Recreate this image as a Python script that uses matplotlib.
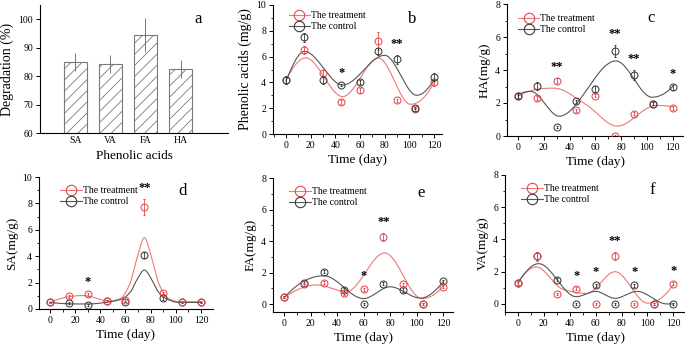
import numpy as np
import matplotlib
matplotlib.use("Agg")
import matplotlib.pyplot as plt
from matplotlib.lines import Line2D
from matplotlib.ticker import MultipleLocator

plt.rcParams['font.family'] = ['Liberation Serif', 'DejaVu Serif']
plt.rcParams['hatch.color'] = '#8a8a8a'
plt.rcParams['hatch.linewidth'] = 0.6

RED = '#e24a4e'
RED_LINE = '#f07878'
BLK = '#3a3a3a'
BLK_LINE = '#555555'

# ---------------- data ----------------
acids = ['SA', 'VA', 'FA', 'HA']
degradation = [85.0, 84.2, 94.5, 82.5]
degradation_err = [3.3, 3.2, 6.0, 3.2]

days = [0, 15, 30, 45, 60, 75, 90, 105, 120]

# panel b: phenolic acids
b_treat = [4.2, 6.5, 4.7, 2.5, 3.4, 7.2, 2.6, 1.9, 4.0]
b_treat_err = [0.25, 0.3, 0.25, 0.15, 0.2, 0.7, 0.15, 0.1, 0.25]
b_ctrl = [4.2, 7.5, 4.2, 3.8, 4.0, 6.4, 5.8, 2.0, 4.4]
b_ctrl_err = [0.3, 0.35, 0.3, 0.1, 0.15, 0.25, 0.35, 0.1, 0.3]
b_treat_fit_x = [0, 16, 46, 75, 101, 120]
b_treat_fit_y = [4.2, 5.9, 2.9, 5.9, 2.3, 4.0]
b_ctrl_fit_x = [0, 15, 46, 80, 106, 120]
b_ctrl_fit_y = [4.1, 6.4, 3.8, 6.1, 3.0, 4.2]
b_stars = [(45, '*'), (90, '**')]

# panel c: HA
c_treat = [2.4, 2.3, 3.35, 1.55, 2.45, 0.0, 1.35, 1.95, 1.7]
c_treat_err = [0.1, 0.1, 0.15, 0.1, 0.1, 0.05, 0.1, 0.1, 0.1]
c_ctrl = [2.45, 3.05, 0.55, 2.1, 2.85, 5.15, 3.7, 1.95, 2.95]
c_ctrl_err = [0.15, 0.25, 0.05, 0.1, 0.2, 0.35, 0.3, 0.1, 0.15]
c_treat_fit_x = [0, 28, 52, 77, 107, 120]
c_treat_fit_y = [2.4, 2.9, 1.95, 0.6, 1.85, 1.75]
c_ctrl_fit_x = [0, 10, 32, 76, 104, 120]
c_ctrl_fit_y = [2.5, 2.7, 1.2, 4.55, 2.35, 3.0]
c_stars = [(30, '**'), (75, '**'), (90, '**'), (120, '*')]

# panel d: SA
d_treat = [0.5, 0.95, 1.1, 0.6, 0.65, 7.7, 1.2, 0.55, 0.55]
d_treat_err = [0.05, 0.1, 0.1, 0.05, 0.1, 0.6, 0.1, 0.05, 0.05]
d_ctrl = [0.5, 0.45, 0.3, 0.6, 0.55, 4.1, 0.8, 0.5, 0.5]
d_ctrl_err = [0.05, 0.05, 0.05, 0.05, 0.05, 0.25, 0.1, 0.05, 0.05]
d_treat_fit_x = [0, 27, 47, 56, 63, 69, 75, 81, 87, 94, 103, 120]
d_treat_fit_y = [0.5, 1.02, 0.6, 0.8, 1.8, 3.8, 5.4, 3.8, 1.8, 0.8, 0.55, 0.55]
d_ctrl_fit_x = [0, 30, 48, 57, 64, 69, 75, 81, 86, 93, 102, 120]
d_ctrl_fit_y = [0.5, 0.38, 0.55, 0.75, 1.3, 2.2, 2.95, 2.2, 1.3, 0.75, 0.5, 0.5]
d_stars = [(30, '*'), (75, '**')]

# panel e: FA
e_treat = [0.45, 1.25, 1.35, 0.7, 0.95, 4.25, 1.25, 0.0, 1.1]
e_treat_err = [0.05, 0.1, 0.1, 0.1, 0.1, 0.25, 0.1, 0.05, 0.1]
e_ctrl = [0.45, 1.35, 2.05, 0.9, 0.0, 1.3, 0.9, 0.0, 1.45]
e_ctrl_err = [0.05, 0.1, 0.1, 0.1, 0.05, 0.1, 0.1, 0.05, 0.1]
e_treat_fit_x = [0, 25, 47, 76, 104, 120]
e_treat_fit_y = [0.4, 1.22, 0.78, 3.25, 0.35, 1.15]
e_ctrl_fit_x = [0, 30, 60, 80, 103, 120]
e_ctrl_fit_y = [0.4, 1.8, 0.35, 1.1, 0.38, 1.4]
e_stars = [(60, '*'), (75, '**')]

# panel f: VA
f_treat = [1.3, 2.95, 0.6, 0.95, 0.0, 2.95, 0.0, 0.0, 1.25]
f_treat_err = [0.1, 0.3, 0.05, 0.1, 0.05, 0.25, 0.05, 0.05, 0.1]
f_ctrl = [1.3, 3.0, 1.5, 0.0, 1.15, 0.0, 1.15, 0.0, 0.0]
f_ctrl_err = [0.1, 0.25, 0.1, 0.05, 0.1, 0.05, 0.1, 0.05, 0.05]
f_treat_fit_x = [0, 14, 35, 53, 75, 100, 120]
f_treat_fit_y = [1.3, 2.3, 0.9, 0.65, 2.0, 0.05, 1.2]
f_ctrl_fit_x = [0, 16, 45, 60, 75, 92, 115, 120]
f_ctrl_fit_y = [1.3, 2.5, 0.45, 0.78, 0.35, 0.78, 0.0, 0.0]
f_stars = [(45, '*'), (60, '*'), (75, '**'), (90, '*'), (120, '*')]


def pchip(xk, yk, xs):
    xk = np.asarray(xk, float)
    yk = np.asarray(yk, float)
    h = np.diff(xk)
    d = np.diff(yk) / h
    n = len(xk)
    m = np.zeros(n)
    for k in range(1, n - 1):
        if d[k - 1] * d[k] > 0:
            w1 = 2 * h[k] + h[k - 1]
            w2 = h[k] + 2 * h[k - 1]
            m[k] = (w1 + w2) / (w1 / d[k - 1] + w2 / d[k])

    def end(h0, h1, d0, d1):
        v = ((2 * h0 + h1) * d0 - h0 * d1) / (h0 + h1)
        if np.sign(v) != np.sign(d0):
            v = 0.0
        elif np.sign(d0) != np.sign(d1) and abs(v) > abs(3 * d0):
            v = 3 * d0
        return v

    m[0] = end(h[0], h[1], d[0], d[1])
    m[-1] = end(h[-1], h[-2], d[-1], d[-2])
    xs = np.asarray(xs, float)
    idx = np.clip(np.searchsorted(xk, xs) - 1, 0, n - 2)
    t = (xs - xk[idx]) / h[idx]
    h00 = 2 * t**3 - 3 * t**2 + 1
    h10 = t**3 - 2 * t**2 + t
    h01 = -2 * t**3 + 3 * t**2
    h11 = t**3 - t**2
    return (h00 * yk[idx] + h10 * h[idx] * m[idx] +
            h01 * yk[idx + 1] + h11 * h[idx] * m[idx + 1])


fig = plt.figure(figsize=(6.85, 3.46), dpi=100)
W, H = 685.0, 346.0


def add_ax(left, right, top, bottom):
    return fig.add_axes([left / W, 1 - bottom / H, (right - left) / W, (bottom - top) / H])


def style(ax):
    for s in ['top', 'right']:
        ax.spines[s].set_visible(False)
    for s in ['left', 'bottom']:
        ax.spines[s].set_linewidth(0.8)
    ax.tick_params(direction='out', length=3, width=0.7, labelsize=7, pad=2)
    ax.tick_params(which='minor', direction='out', length=1.8, width=0.6)


# ---------------- panel a ----------------
axa = add_ax(40, 228, 5, 133)
style(axa)
xa = np.arange(1, len(acids) + 1)
axa.bar(xa, degradation, width=0.65, bottom=0, color='white', edgecolor='#7a7a7a',
        hatch='///', linewidth=0.8)
axa.errorbar(xa, degradation, yerr=degradation_err, fmt='none', ecolor='#777777',
             elinewidth=0.7, capsize=0)
axa.set_ylim(60, 105)
axa.set_xlim(0, 5.35)
axa.set_xticks(xa)
axa.set_xticklabels(acids)
axa.set_yticks([60, 70, 80, 90, 100])
axa.tick_params(axis='x', length=0)
axa.set_xlabel('Phenolic acids', fontsize=9.5, labelpad=4)
axa.set_ylabel('Degradation (%)', fontsize=10, labelpad=3)
axa.text(0.82, 0.86, 'a', transform=axa.transAxes, fontsize=12)


def line_panel(rect, treat, terr, ctrl, cerr, tfx, tfy, cfx, cfy, stars, ylim, ymajor,
               ylabel, letter, xlim, leg_xy, ctrl_top=False, ylabel_size=9.5):
    ax = add_ax(*rect)
    style(ax)
    xs = np.linspace(0, 120, 400)
    ax.plot(xs, pchip(tfx, tfy, xs), color=RED_LINE, lw=0.8, zorder=2)
    ax.plot(xs, pchip(cfx, cfy, xs), color=BLK_LINE, lw=0.8, zorder=2)
    zt, zc = (3, 4) if ctrl_top else (4, 3)
    ax.errorbar(days, treat, yerr=terr, fmt='o', ms=5, mfc='none', mec=RED, mew=0.75,
                ecolor=RED, elinewidth=0.6, capsize=1, capthick=0.6, zorder=zt)
    ax.errorbar(days, ctrl, yerr=cerr, fmt='o', ms=5, mfc='none', mec=BLK, mew=0.75,
                ecolor=BLK, elinewidth=0.6, capsize=1, capthick=0.6, zorder=zc)
    for x, s in stars:
        i = days.index(x)
        top = max(treat[i] + terr[i], ctrl[i] + cerr[i])
        ax.text(x, top + 0.04 * (ylim[1] - ylim[0]), s, ha='center', va='bottom',
                fontsize=9, fontweight='bold', color='black')
    ax.set_xlim(*xlim)
    ax.set_ylim(*ylim)
    ax.xaxis.set_major_locator(MultipleLocator(20))
    ax.xaxis.set_minor_locator(MultipleLocator(10))
    ax.yaxis.set_major_locator(MultipleLocator(ymajor))
    ax.yaxis.set_minor_locator(MultipleLocator(ymajor / 2))
    ax.set_xlabel('Time (day)', fontsize=9.5, labelpad=3)
    ax.set_ylabel(ylabel, fontsize=ylabel_size, labelpad=3)
    ax.text(0.8, 0.86, letter, transform=ax.transAxes, fontsize=12)
    handles = [Line2D([0], [0], color=RED_LINE, lw=0.8, marker='o', ms=7.5, mfc='none',
                      mec=RED, mew=0.8),
               Line2D([0], [0], color=BLK_LINE, lw=0.8, marker='o', ms=7.5, mfc='none',
                      mec=BLK, mew=0.8)]
    ax.legend(handles, ['The treatment', 'The control'], loc='upper left',
              bbox_to_anchor=leg_xy, frameon=False, fontsize=7, handlelength=2.2,
              handletextpad=0.1, labelspacing=0.2, borderaxespad=0)
    return ax


line_panel((273, 442, 5, 134), b_treat, b_treat_err, b_ctrl, b_ctrl_err,
           b_treat_fit_x, b_treat_fit_y, b_ctrl_fit_x, b_ctrl_fit_y, b_stars,
           (0, 10), 2, 'Phenolic acids (mg/g)', 'b', (-10.5, 126.5), (0.07, 0.98),
           ctrl_top=True, ylabel_size=10)
line_panel((507, 683, 4, 136), c_treat, c_treat_err, c_ctrl, c_ctrl_err,
           c_treat_fit_x, c_treat_fit_y, c_ctrl_fit_x, c_ctrl_fit_y, c_stars,
           (0, 8), 2, 'HA(mg/g)', 'c', (-8.5, 128), (0.04, 0.95), ctrl_top=True)
line_panel((39, 213, 177, 309), d_treat, d_treat_err, d_ctrl, d_ctrl_err,
           d_treat_fit_x, d_treat_fit_y, d_ctrl_fit_x, d_ctrl_fit_y, d_stars,
           (0, 10), 2, 'SA(mg/g)', 'd', (-8.7, 129.5), (0.1, 0.96))
line_panel((273, 453, 178, 312), e_treat, e_treat_err, e_ctrl, e_ctrl_err,
           e_treat_fit_x, e_treat_fit_y, e_ctrl_fit_x, e_ctrl_fit_y, e_stars,
           (-0.5, 8), 2, 'FA(mg/g)', 'e', (-8.3, 127.5), (0.07, 0.96))
line_panel((505, 685, 175, 312), f_treat, f_treat_err, f_ctrl, f_ctrl_err,
           f_treat_fit_x, f_treat_fit_y, f_ctrl_fit_x, f_ctrl_fit_y, f_stars,
           (-0.5, 8), 2, 'VA(mg/g)', 'f', (-10, 129), (0.07, 0.96))

fig.savefig('out.png', dpi=100)
